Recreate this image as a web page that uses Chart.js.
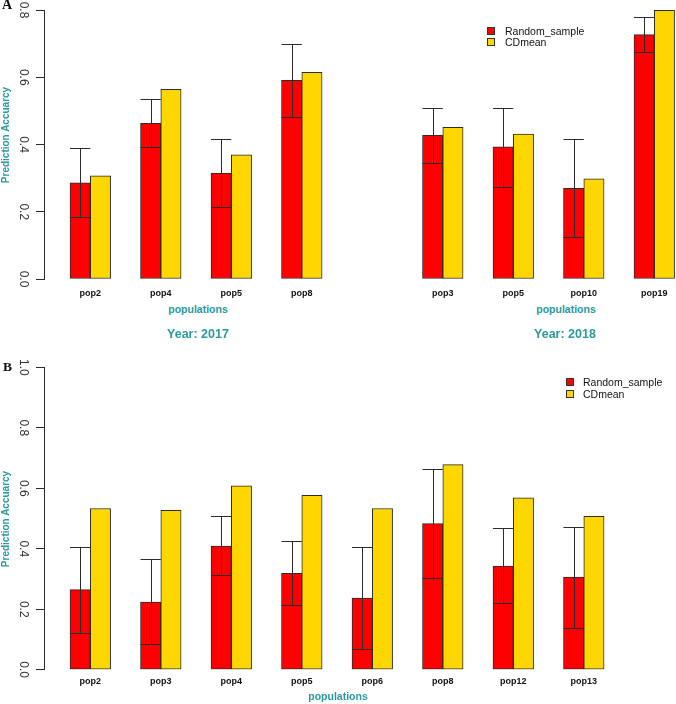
<!DOCTYPE html>
<html>
<head>
<meta charset="utf-8">
<script src="https://cdn.jsdelivr.net/npm/chart.js@4.4.1/dist/chart.umd.min.js"></script>
<style>
body { margin: 0; background: #fff; }
#wrap { position: relative; width: 676px; height: 704px; overflow: hidden; font-family: "Liberation Sans", Arial, sans-serif; }
canvas { position: absolute; left: 0; }
.t { position: absolute; white-space: nowrap; transform: translate(-50%, -50%); line-height: 1; }
.teal { color: #2a9a9a; font-weight: bold; }
.rot { transform: translate(-50%, -50%) rotate(-90deg); }
.panel { position: absolute; font-family: "Liberation Serif", "Times New Roman", serif; font-weight: bold; line-height: 1; color: #111; }
.leg { position: absolute; height: 12px; line-height: 12px; font-size: 10.5px; color: #111; white-space: nowrap; }
.sq { position: absolute; top: 2px; width: 6px; height: 6px; border: 1px solid #333; }
</style>
</head>
<body>
<div id="wrap">
  <canvas id="chartA" width="676" height="300" style="top:0px"></canvas>
  <canvas id="chartB" width="676" height="350" style="top:340px"></canvas>

  <div class="panel" style="left:2px; top:-2px; font-size:14px;">A</div>
  <div class="panel" style="left:3px; top:360px; font-size:13.5px;">B</div>

  <div class="t teal rot" style="left:6px; top:135px; font-size:10px;">Prediction Accuarcy</div>
  <div class="t teal rot" style="left:6px; top:519px; font-size:10px;">Prediction Accuarcy</div>

  <div class="t teal" style="left:198px; top:309px; font-size:10.5px;">populations</div>
  <div class="t teal" style="left:566px; top:309px; font-size:10.5px;">populations</div>
  <div class="t teal" style="left:198px; top:334px; font-size:12.5px;">Year: 2017</div>
  <div class="t teal" style="left:565px; top:334px; font-size:12.5px;">Year: 2018</div>
  <div class="t teal" style="left:338px; top:696px; font-size:10.5px;">populations</div>

  <div class="leg" style="left:487px; top:25px;"><span class="sq" style="background:#ff0000"></span><span style="margin-left:18px">Random_sample</span></div>
  <div class="leg" style="left:487px; top:36px;"><span class="sq" style="background:#ffd700"></span><span style="margin-left:18px">CDmean</span></div>
  <div class="leg" style="left:566px; top:376px;"><span class="sq" style="background:#ff0000"></span><span style="margin-left:17px">Random_sample</span></div>
  <div class="leg" style="left:566px; top:388px;"><span class="sq" style="background:#ffd700"></span><span style="margin-left:17px">CDmean</span></div>
</div>
<script>
// Panel A, year 2017
var pops2017 = ["pop2", "pop4", "pop5", "pop8"];
var random2017 = [0.286, 0.463, 0.315, 0.591];
var random2017Low = [0.183, 0.392, 0.215, 0.483];
var random2017High = [0.389, 0.534, 0.416, 0.700];
var cdmean2017 = [0.307, 0.564, 0.369, 0.615];

// Panel A, year 2018
var pops2018 = ["pop3", "pop5", "pop10", "pop19"];
var random2018 = [0.427, 0.393, 0.270, 0.727];
var random2018Low = [0.345, 0.274, 0.124, 0.674];
var random2018High = [0.508, 0.509, 0.415, 0.779];
var cdmean2018 = [0.451, 0.431, 0.298, 0.799];

// Panel B
var popsB = ["pop2", "pop3", "pop4", "pop5", "pop6", "pop8", "pop12", "pop13"];
var randomB = [0.265, 0.224, 0.409, 0.319, 0.237, 0.483, 0.343, 0.306];
var randomBLow = [0.122, 0.084, 0.312, 0.213, 0.067, 0.302, 0.220, 0.137];
var randomBHigh = [0.405, 0.367, 0.509, 0.427, 0.405, 0.663, 0.468, 0.473];
var cdmeanB = [0.533, 0.527, 0.608, 0.577, 0.533, 0.678, 0.568, 0.507];

var yTicksA = [0, 0.2, 0.4, 0.6, 0.8];
var yTicksB = [0, 0.2, 0.4, 0.6, 0.8, 1.0];

var lineColor = "#2b2b2b";

// error bars over the Random_sample bars
var errorBars = {
    id: "errorBars",
    afterDatasetsDraw: function(chart) {
        var ds = chart.data.datasets[0];
        var meta = chart.getDatasetMeta(0);
        var y = chart.scales.y;
        var ctx = chart.ctx;
        ctx.save();
        ctx.strokeStyle = lineColor;
        ctx.lineWidth = 1;
        meta.data.forEach(function(bar, i) {
            var top = Math.round(y.getPixelForValue(ds.high[i])) + 0.5;
            var bot = Math.round(y.getPixelForValue(ds.low[i])) + 0.5;
            var cx = Math.round(bar.x) + 0.5;
            var half = bar.width / 2;
            ctx.beginPath();
            ctx.moveTo(cx, top); ctx.lineTo(cx, bot);
            ctx.moveTo(bar.x - half, top); ctx.lineTo(bar.x + half, top);
            ctx.moveTo(bar.x - half, bot); ctx.lineTo(bar.x + half, bot);
            ctx.stroke();
        });
        ctx.restore();
    }
};

function makeChart(id, labels, xs, random, low, high, cdmean, yTicks, cfg) {
    var toPoints = function(vals) {
        return xs.map(function(x, i) { return {x: x, y: vals[i]}; });
    };
    return new Chart(document.getElementById(id), {
        type: "bar",
        data: {
            datasets: [{
                label: "Random_sample",
                data: toPoints(random),
                low: low,
                high: high,
                backgroundColor: "#ff0000",
                borderColor: lineColor,
                borderWidth: 1,
                borderSkipped: false,
                barThickness: 20.3
            }, {
                label: "CDmean",
                data: toPoints(cdmean),
                backgroundColor: "#ffd700",
                borderColor: lineColor,
                borderWidth: 1,
                borderSkipped: false,
                barThickness: 20.3
            }]
        },
        options: {
            responsive: false,
            animation: false,
            devicePixelRatio: 1,
            layout: {padding: {top: cfg.top, left: 0, right: 0, bottom: 0}},
            plugins: {
                legend: {display: false},
                tooltip: {enabled: false}
            },
            scales: {
                x: {
                    type: "linear",
                    offset: false,
                    min: -0.657,
                    max: 8.308,
                    grid: {display: false, drawTicks: false},
                    border: {display: false},
                    afterBuildTicks: function(s) { s.ticks = xs.map(function(v) { return {value: v}; }); },
                    afterFit: function(s) { s.height = cfg.xh; s.paddingLeft = 0; s.paddingRight = 0; },
                    ticks: {
                        autoSkip: false,
                        maxRotation: 0,
                        padding: cfg.xpad,
                        color: "#111",
                        font: {family: "Liberation Sans", weight: "bold", size: 9},
                        callback: function(v, i) { return labels[i]; }
                    }
                },
                y: {
                    min: 0,
                    max: yTicks[yTicks.length - 1],
                    grid: {display: true, drawOnChartArea: false, drawTicks: true, tickLength: 8, color: lineColor},
                    border: {display: true, color: lineColor, width: 1},
                    afterBuildTicks: function(s) { s.ticks = yTicks.map(function(v) { return {value: v}; }); },
                    afterFit: function(s) { s.width = 44; s.paddingTop = 0; s.paddingBottom = 0; },
                    ticks: {
                        minRotation: -90,
                        maxRotation: -90,
                        crossAlign: "center",
                        padding: 4.6,
                        color: "#333",
                        font: {family: "Liberation Sans", size: 12},
                        callback: function(v) { return v.toFixed(1); }
                    }
                }
            }
        },
        plugins: [errorBars]
    });
}

// panel A: 2017 groups at 0..3, 2018 groups after one empty slot
var xsA = pops2017.map(function(p, i) { return i; })
    .concat(pops2018.map(function(p, i) { return i + pops2017.length + 1; }));
var xsB = popsB.map(function(p, i) { return i; });

var chartA = makeChart("chartA", pops2017.concat(pops2018), xsA,
    random2017.concat(random2018), random2017Low.concat(random2018Low),
    random2017High.concat(random2018High), cdmean2017.concat(cdmean2018),
    yTicksA, {top: 10, xh: 21, xpad: 9.1});

var chartB = makeChart("chartB", popsB, xsB, randomB, randomBLow, randomBHigh, cdmeanB,
    yTicksB, {top: 27.3, xh: 20.3, xpad: 6.6});
</script>
</body>
</html>
